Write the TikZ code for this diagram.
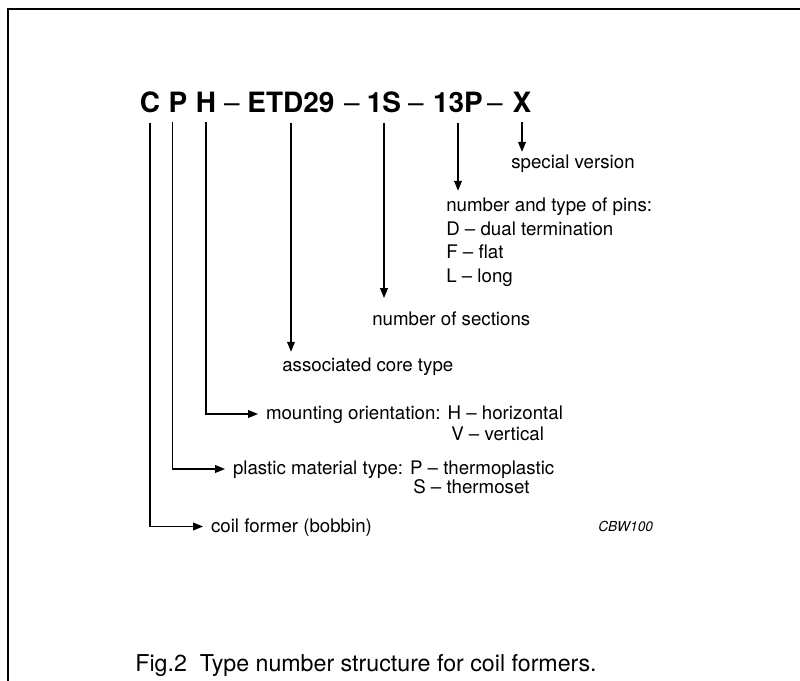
\documentclass[tikz,border=0pt]{standalone}
\usepackage{fontspec}
\setmainfont{TeX Gyre Heros}
\usetikzlibrary{arrows.meta}

\tikzset{
	hdr/.style={font=\fontsize{19.9}{24}\selectfont\bfseries, anchor=base, inner xsep=0pt, inner ysep=6.4pt},
	hdrdash/.style={font=\fontsize{19.9}{24}\selectfont, anchor=base, inner sep=0pt},
	lbl/.style={font=\fontsize{13.3}{16}\selectfont, anchor=west, inner sep=0pt, text height=9.6pt, text depth=1.3pt},
	sidelbl/.style={lbl, inner xsep=5.5pt},
	arr/.style={-{Triangle[length=7pt,width=5.5pt]}, line width=0.8pt},
}

\begin{document}
\begin{tikzpicture}[x=0.025cm, y=-0.025cm]
		\useasboundingbox (0,0) rectangle (800,681);
		\draw[line width=1.4pt] (800,9) -- (8,9) -- (8,681);

		% type number
		\path
			  (150,113) node[hdr]     (C)   {C}
			  (178,113) node[hdr]     (P)   {P}
			  (206,113) node[hdr]     (H)   {H}
			  (232,113) node[hdrdash] (d1)  {--}
			  (291,113) node[hdr]     (ETD) {ETD29}
			  (352,113) node[hdrdash] (d2)  {--}
			  (384,113) node[hdr]     (S1)  {1S}
			  (416,113) node[hdrdash] (d3)  {--}
			  (458,113) node[hdr]     (P13) {13P}
			  (495,113) node[hdrdash] (d4)  {--}
			  (522,113) node[hdr]     (X)   {X}
		;

		% meanings
		\path
			  (511,163) node[lbl, inner ysep=2.3pt] (spec) {special version}
			  (446,206) node[lbl, inner ysep=5.2pt] (pins) {number and type of pins:}
			++(0, 23.5) node[lbl]  (pinsd) {D -- dual termination}
			++(0, 23.5) node[lbl]  (pinsf) {F -- flat}
			++(0, 23.5) node[lbl]  (pinsl) {L -- long}
			  (372,320) node[lbl, inner ysep=10pt] (sect) {number of sections}
			  (282,366) node[lbl, inner ysep=4.5pt] (core) {associated core type}
			  (258,414) node[sidelbl] (mount)  {mounting orientation: H -- horizontal}
			  (451,435) node[lbl]     (mountv) {V -- vertical}
			  (225,469) node[sidelbl] (plast)  {plastic material type: P -- thermoplastic}
			  (413,488) node[lbl]     (plasts) {S -- thermoset}
			  (203,526.5) node[sidelbl] (coil) {coil former (bobbin)}
		;
		\node[font=\fontsize{9.8}{12}\selectfont\itshape, anchor=base west, inner sep=0pt] (cbw) at (598,531) {CBW100};
		\node[font=\fontsize{16.5}{20}\selectfont, anchor=base, inner sep=0pt] (cap) at (366,671) {Fig.2\ \ Type number structure for coil formers.};

		\draw[arr] (X.south)   -- (X.south |- spec.north);
		\draw[arr] (P13.south) -- (P13.south |- pins.north);
		\draw[arr] (S1.south)  -- (S1.south |- sect.north);
		\draw[arr] (ETD.south) -- (ETD.south |- core.north);
		\draw[arr] (H.south)   |- (mount.west);
		\draw[arr] ([xshift=3pt]P.south west) |- (plast.west);
		\draw[arr] (C.south)   |- (coil.west);
	\end{tikzpicture}
\end{document}
